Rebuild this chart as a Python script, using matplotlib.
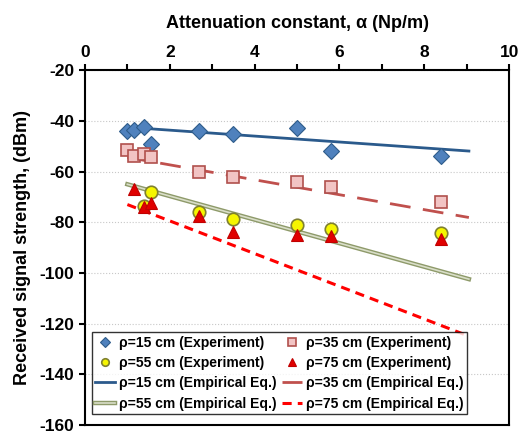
import matplotlib.pyplot as plt
import matplotlib.patheffects as pe
from matplotlib.ticker import MultipleLocator

plt.rcParams['font.family'] = ['Liberation Sans', 'DejaVu Sans']
plt.rcParams['font.weight'] = 'bold'
plt.rcParams['axes.unicode_minus'] = False

# measured points, attenuation constant (Np/m) vs received signal (dBm)
alpha_15 = [1.0, 1.15, 1.4, 1.55, 2.7, 3.5, 5.0, 5.8, 8.4]
rss_15 = [-44, -43.5, -42.5, -49, -44, -45, -43, -52, -54]
alpha_35 = [1.0, 1.15, 1.4, 1.55, 2.7, 3.5, 5.0, 5.8, 8.4]
rss_35 = [-51.3, -54, -53, -54.4, -60, -62, -64, -66, -72]
alpha_55 = [1.4, 1.55, 2.7, 3.5, 5.0, 5.8, 8.4]
rss_55 = [-73.5, -68, -76, -78.5, -81, -82.8, -84.3]
alpha_75 = [1.15, 1.4, 1.55, 2.7, 3.5, 5.0, 5.8, 8.4]
rss_75 = [-67, -74, -72.5, -77.5, -84, -85, -85.5, -86.5]

# empirical equation lines (end points)
emp_alpha = [1.0, 9.05]
emp_15 = [-42.5, -51.9]
emp_35 = [-54.4, -78.1]
emp_55 = [-65.0, -102.4]
emp_75 = [-73.0, -124.9]

fig = plt.figure(figsize=(5.18, 4.33), dpi=100)
ax = fig.add_axes([0.164, 0.018, 0.819, 0.82])

l15, = ax.plot(emp_alpha, emp_15, color='#2B5A8C', lw=2, label='ρ=15 cm (Empirical Eq.)')
l35, = ax.plot(emp_alpha, emp_35, color='#C0504D', lw=2, dashes=(7.5, 4.5), label='ρ=35 cm (Empirical Eq.)')
l55, = ax.plot(emp_alpha, emp_55, color='#D9DEC8', lw=1.2, label='ρ=55 cm (Empirical Eq.)',
               path_effects=[pe.Stroke(linewidth=3.2, foreground='#8E9A6A'), pe.Normal()])
l75, = ax.plot(emp_alpha, emp_75, color='#FF0000', lw=2.2, dashes=(3, 2), label='ρ=75 cm (Empirical Eq.)')

m15, = ax.plot(alpha_15, rss_15, 'D', ms=8.5, mfc='#4F81BD', mec='#2E5C8A', mew=0.8,
               label='ρ=15 cm (Experiment)', zorder=4)
m35, = ax.plot(alpha_35, rss_35, 's', ms=9, mfc='#F2C4C4', mec='#B0504D', mew=1.2,
               label='ρ=35 cm (Experiment)', zorder=4)
m55, = ax.plot(alpha_55, rss_55, 'o', ms=9, mfc='#F5F500', mec='#7F8030', mew=1.2,
               label='ρ=55 cm (Experiment)', zorder=4)
m75, = ax.plot(alpha_75, rss_75, '^', ms=9, mfc='#E00000', mec='#C00000', mew=0.8,
               label='ρ=75 cm (Experiment)', zorder=5)

ax.set_xlim(0, 10)
ax.set_ylim(-160, -20)
ax.xaxis.tick_top()
ax.xaxis.set_label_position('top')
ax.xaxis.set_major_locator(MultipleLocator(2))
ax.xaxis.set_minor_locator(MultipleLocator(1))
ax.yaxis.set_major_locator(MultipleLocator(20))
ax.tick_params(axis='both', which='major', labelsize=12.5, width=1.5, length=4, direction='out')
ax.tick_params(axis='x', which='minor', width=1.5, length=4, direction='out')
for s in ax.spines.values():
    s.set_linewidth(1.5)
ax.grid(axis='y', color='#C8C8C8', ls=':', lw=0.8)

ax.set_xlabel('Attenuation constant, α (Np/m)', fontsize=13, fontweight='bold', labelpad=12)
ax.set_ylabel('Received signal strength, (dBm)', fontsize=13, fontweight='bold', labelpad=6)

handles = [m15, m55, l15, l55, m35, m75, l35, l75]
leg = ax.legend(handles=handles, ncol=2, loc='lower left', bbox_to_anchor=(0.0, 0.012),
                fontsize=10, frameon=True, fancybox=False, edgecolor='black',
                handlelength=1.4, handletextpad=0.3, columnspacing=0.4,
                labelspacing=0.45, borderpad=0.25, markerscale=0.6)
leg.get_frame().set_linewidth(1.0)

fig.savefig('out.png', dpi=100)
